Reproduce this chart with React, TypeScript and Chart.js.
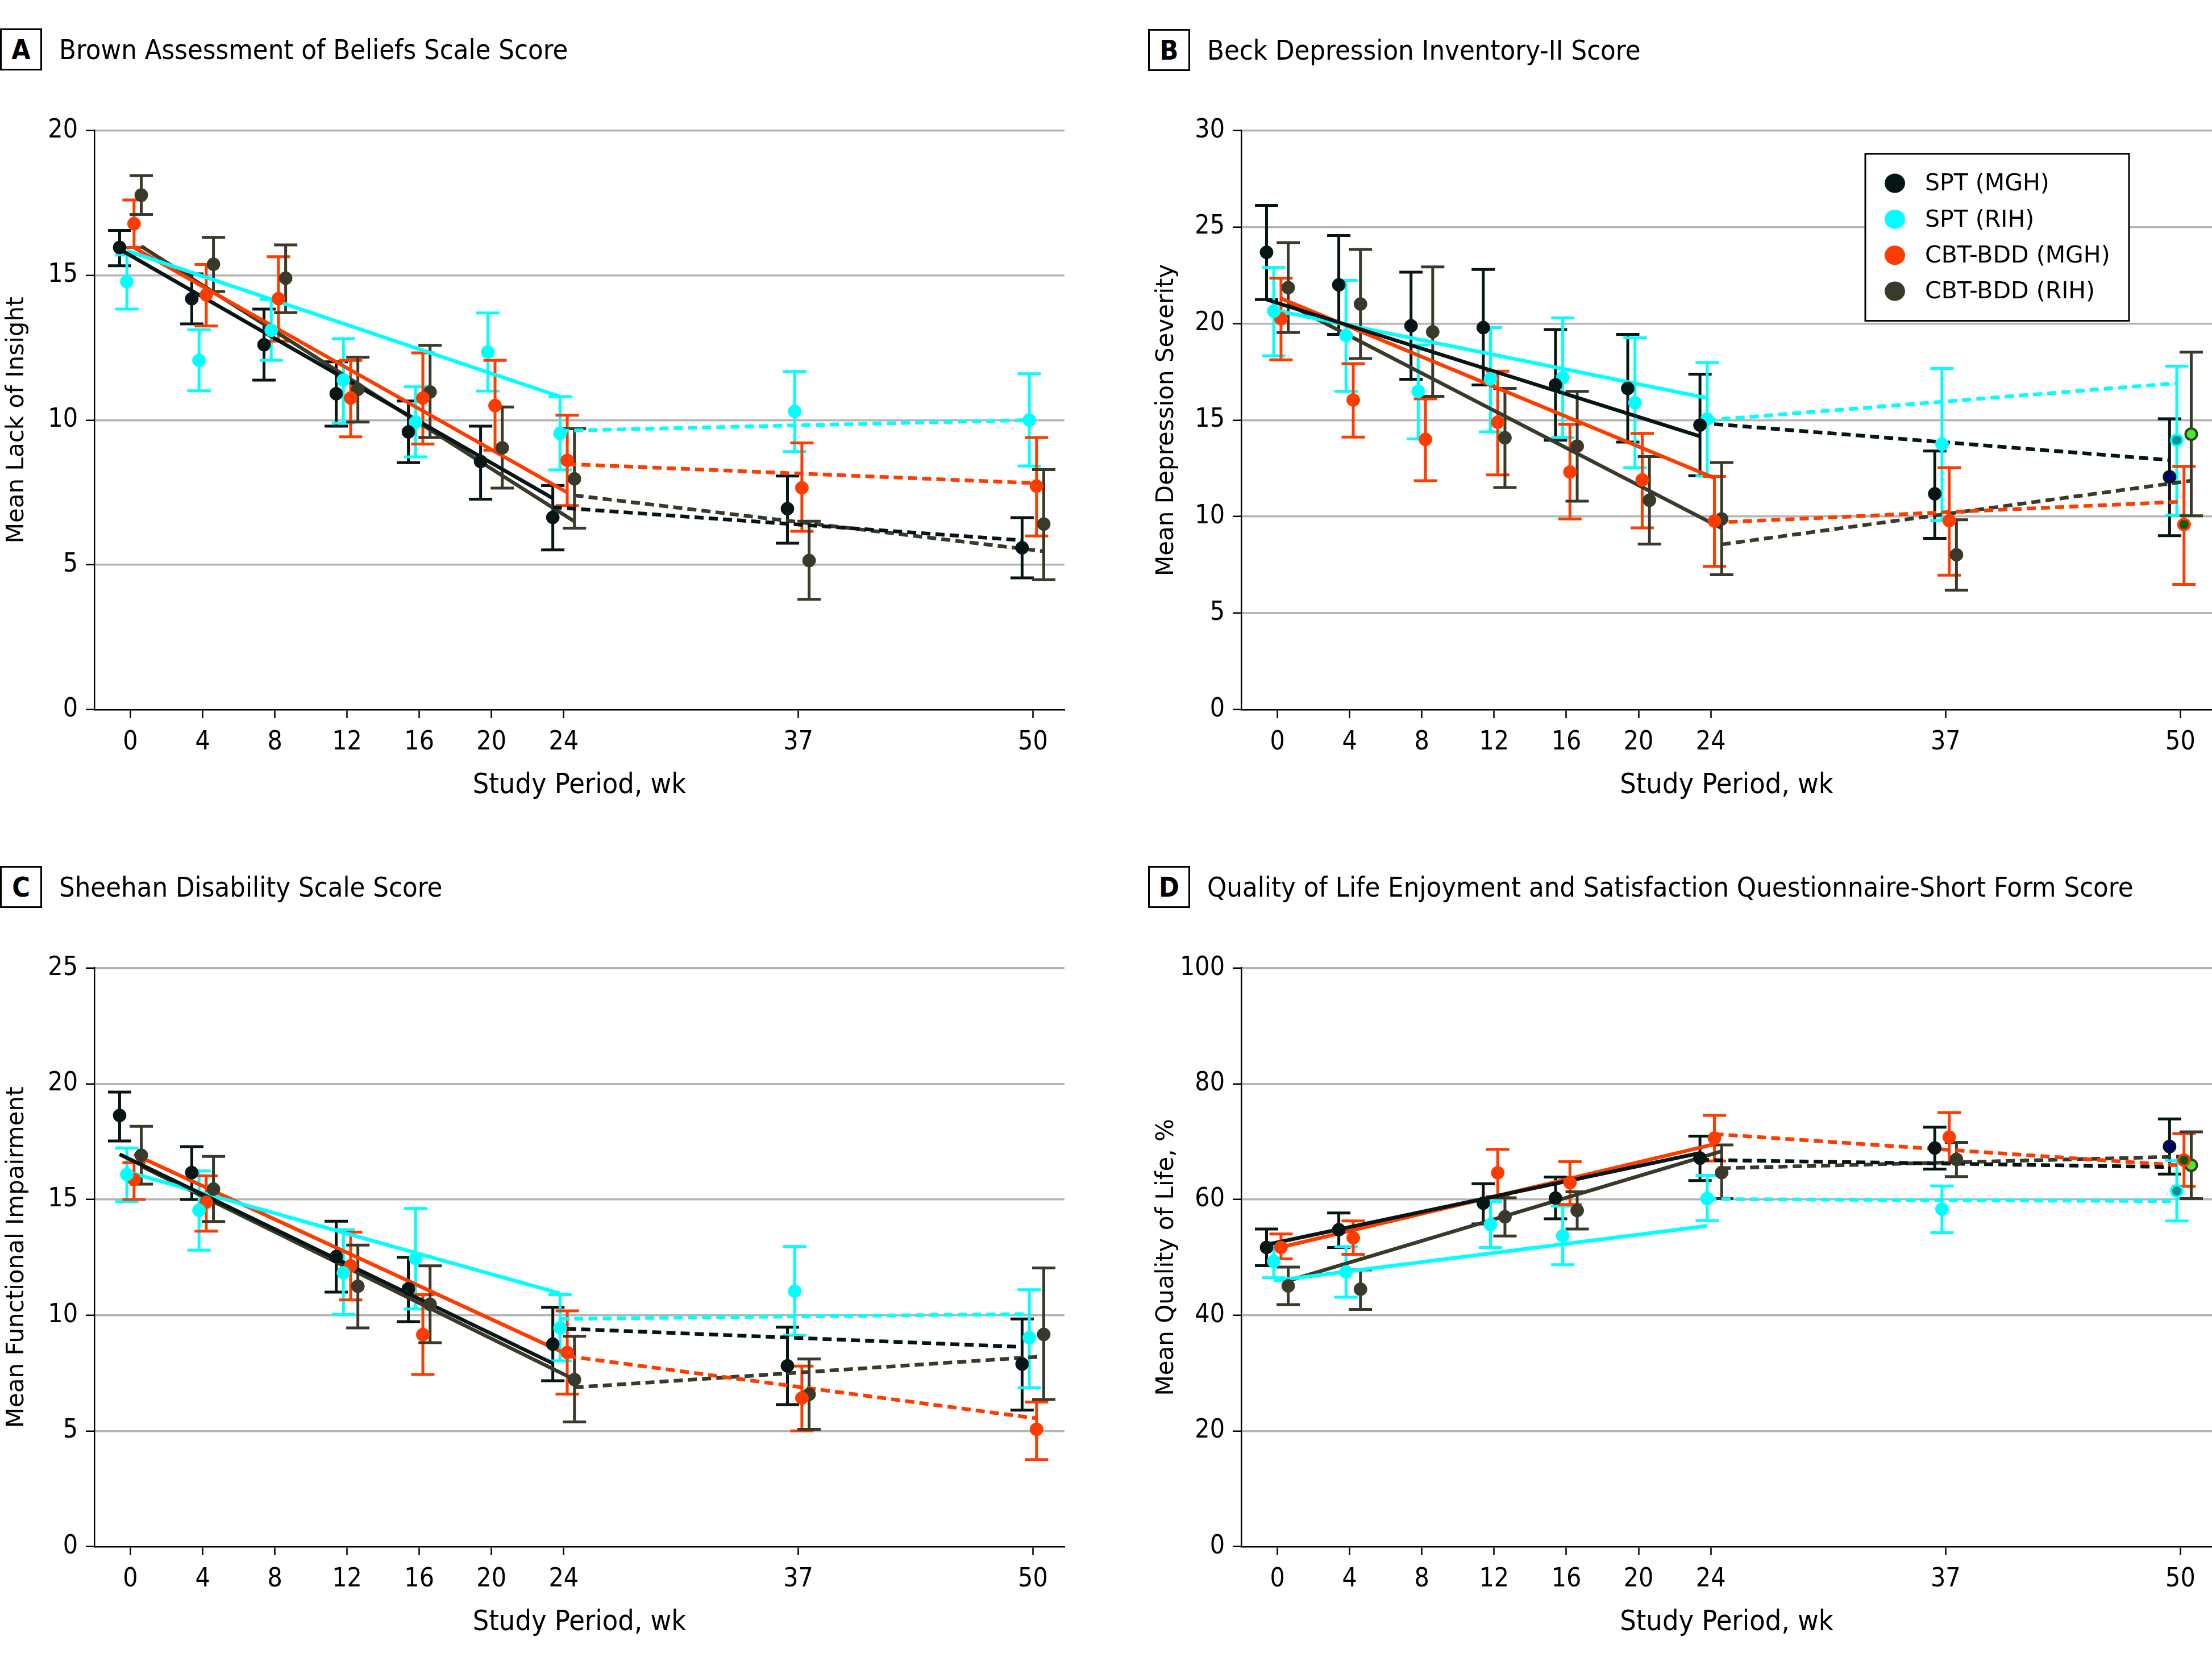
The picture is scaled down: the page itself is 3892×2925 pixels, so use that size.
import React, { useEffect, useRef } from "react";
import { Chart, registerables } from "chart.js";

Chart.register(...registerables);

// ---------- categories / ticks ----------
const GROUPS = ["SPT (MGH)", "SPT (RIH)", "CBT-BDD (MGH)", "CBT-BDD (RIH)"];
const WEEKS_AB = [0, 4, 8, 12, 16, 20, 24, 37, 50];
const WEEKS_CD = [0, 4, 12, 16, 24, 37, 50];
const X_TICKS = [0, 4, 8, 12, 16, 20, 24, 37, 50];
const LINE_WEEKS = [0, 24, 24, 50]; // solid start, solid end, dashed start, dashed end

// ---------- Panel A: BABS ----------
const A_SPT_MGH = [15.96, 14.19, 12.6, 10.91, 9.59, 8.57, 6.64, 6.94, 5.59];
const A_SPT_MGH_LO = [15.33, 13.32, 11.38, 9.79, 8.53, 7.27, 5.52, 5.75, 4.55];
const A_SPT_MGH_HI = [16.55, 15.05, 13.83, 12.01, 10.66, 9.79, 7.74, 8.07, 6.63];
const A_SPT_RIH = [14.78, 12.06, 13.1, 11.38, 9.93, 12.35, 9.54, 10.3, 10.0];
const A_SPT_RIH_LO = [13.83, 11.01, 12.06, 9.9, 8.73, 11.0, 8.28, 8.91, 8.41];
const A_SPT_RIH_HI = [15.7, 13.12, 14.16, 12.81, 11.15, 13.7, 10.81, 11.68, 11.6];
const A_CBT_MGH = [16.78, 14.32, 14.19, 10.76, 10.76, 10.5, 8.61, 7.66, 7.72];
const A_CBT_MGH_LO = [15.96, 13.25, 12.73, 9.42, 9.17, 8.96, 7.05, 6.16, 6.0];
const A_CBT_MGH_HI = [17.6, 15.37, 15.64, 12.06, 12.32, 12.06, 10.17, 9.21, 9.4];
const A_CBT_RIH = [17.77, 15.38, 14.9, 11.06, 10.97, 9.04, 7.97, 5.15, 6.41];
const A_CBT_RIH_LO = [17.1, 14.44, 13.71, 9.93, 9.4, 7.65, 6.27, 3.81, 4.49];
const A_CBT_RIH_HI = [18.44, 16.31, 16.05, 12.17, 12.58, 10.45, 9.7, 6.51, 8.29];
const A_FIT_SPT_MGH = [15.9, 7.3, 6.99, 5.85];
const A_FIT_SPT_RIH = [15.85, 10.81, 9.63, 10.0];
const A_FIT_CBT_MGH = [15.95, 7.5, 8.48, 7.82];
const A_FIT_CBT_RIH = [16.0, 6.5, 7.4, 5.47];

// ---------- Panel B: BDI-II ----------
const B_SPT_MGH = [23.69, 22.0, 19.88, 19.79, 16.82, 16.64, 14.74, 11.18, 12.06];
const B_SPT_MGH_LO = [21.24, 19.44, 17.11, 16.82, 13.96, 13.86, 12.12, 8.87, 9.01];
const B_SPT_MGH_HI = [26.12, 24.56, 22.66, 22.8, 19.69, 19.44, 17.38, 13.4, 15.07];
const B_SPT_RIH = [20.64, 19.38, 16.49, 17.13, 17.2, 15.9, 15.05, 13.75, 13.96];
const B_SPT_RIH_LO = [18.33, 16.49, 14.02, 14.39, 14.1, 12.54, 12.1, 9.79, 10.08];
const B_SPT_RIH_HI = [22.9, 22.23, 18.89, 19.79, 20.29, 19.26, 17.98, 17.67, 17.79];
const B_CBT_MGH = [20.25, 16.04, 14.0, 14.89, 12.31, 11.9, 9.77, 9.79, 9.59];
const B_CBT_MGH_LO = [18.12, 14.12, 11.86, 12.16, 9.88, 9.42, 7.42, 6.97, 6.49];
const B_CBT_MGH_HI = [22.35, 17.92, 16.1, 17.53, 14.78, 14.31, 12.08, 12.54, 12.6];
const B_CBT_RIH = [21.86, 21.01, 19.57, 14.08, 13.65, 10.85, 9.88, 8.02, 14.27];
const B_CBT_RIH_LO = [19.53, 18.19, 16.23, 11.51, 10.8, 8.58, 6.99, 6.19, 10.04];
const B_CBT_RIH_HI = [24.19, 23.84, 22.93, 16.64, 16.49, 13.11, 12.8, 9.84, 18.52];
const B_FIT_SPT_MGH = [21.24, 14.16, 14.85, 12.93];
const B_FIT_SPT_RIH = [20.7, 16.14, 14.99, 16.91];
const B_FIT_CBT_MGH = [21.3, 12.0, 9.69, 10.78];
const B_FIT_CBT_RIH = [21.0, 9.4, 8.56, 11.86];

// ---------- Panel C: SDS ----------
const C_SPT_MGH = [18.63, 16.16, 12.53, 11.14, 8.75, 7.81, 7.89];
const C_SPT_MGH_LO = [17.53, 15.0, 11.0, 9.72, 7.17, 6.14, 5.9];
const C_SPT_MGH_HI = [19.64, 17.28, 14.06, 12.5, 10.34, 9.48, 9.84];
const C_SPT_RIH = [16.08, 14.53, 11.83, 12.45, 9.45, 11.04, 9.03];
const C_SPT_RIH_LO = [14.91, 12.81, 10.03, 10.27, 8.03, 9.13, 6.86];
const C_SPT_RIH_HI = [17.22, 16.23, 13.7, 14.61, 10.89, 12.97, 11.1];
const C_CBT_MGH = [15.86, 14.88, 12.13, 9.16, 8.39, 6.42, 5.07];
const C_CBT_MGH_LO = [15.0, 13.63, 10.66, 7.44, 6.59, 5.0, 3.76];
const C_CBT_MGH_HI = [16.59, 16.02, 13.59, 10.89, 10.19, 7.8, 6.25];
const C_CBT_RIH = [16.91, 15.45, 11.25, 10.47, 7.22, 6.58, 9.17];
const C_CBT_RIH_LO = [15.66, 14.05, 9.45, 8.81, 5.39, 5.07, 6.36];
const C_CBT_RIH_HI = [18.16, 16.86, 13.03, 12.13, 9.09, 8.11, 12.04];
const C_FIT_SPT_MGH = [16.95, 7.92, 9.44, 8.63];
const C_FIT_SPT_RIH = [16.2, 10.94, 9.84, 10.05];
const C_FIT_CBT_MGH = [16.95, 8.31, 8.23, 5.54];
const C_FIT_CBT_RIH = [16.44, 7.22, 6.88, 8.22];

// ---------- Panel D: Q-LES-Q-SF ----------
const D_SPT_MGH = [51.71, 54.77, 59.36, 60.24, 67.14, 68.89, 69.16];
const D_SPT_MGH_LO = [48.56, 51.71, 55.78, 56.65, 63.25, 65.26, 64.39];
const D_SPT_MGH_HI = [54.9, 57.66, 62.73, 63.87, 70.95, 72.48, 73.92];
const D_SPT_RIH = [49.3, 47.47, 55.64, 53.72, 60.15, 58.31, 61.46];
const D_SPT_RIH_LO = [46.46, 43.1, 51.71, 48.74, 56.34, 54.25, 56.3];
const D_SPT_RIH_HI = [52.28, 51.84, 59.62, 58.84, 64.17, 62.33, 66.71];
const D_CBT_MGH = [51.71, 53.37, 64.61, 62.9, 70.6, 70.77, 66.79];
const D_CBT_MGH_LO = [49.74, 50.53, 60.5, 59.14, 66.66, 66.36, 62.25];
const D_CBT_MGH_HI = [54.03, 56.3, 68.67, 66.53, 74.53, 75.02, 71.39];
const D_CBT_RIH = [45.06, 44.49, 57.0, 58.09, 64.65, 66.93, 65.92];
const D_CBT_RIH_LO = [41.83, 41.0, 53.68, 54.9, 60.15, 63.95, 60.15];
const D_CBT_RIH_HI = [48.3, 47.82, 60.28, 61.33, 69.42, 69.86, 71.69];
const D_FIT_SPT_MGH = [52.19, 68.02, 66.84, 65.61];
const D_FIT_SPT_RIH = [45.94, 55.43, 60.06, 59.71];
const D_FIT_CBT_MGH = [51.75, 69.55, 71.3, 65.83];
const D_FIT_CBT_RIH = [45.94, 68.33, 65.4, 67.45];

// ---------- styles ----------
const COLORS = ["#061515", "#00ffff", "#ff3c00", "#3a3a2b"];
const FINAL_FILL = ["#000078", "#0f8f8f", "#0a5c0a", "#3ff028"];
const DODGE = [-0.6, -0.2, 0.2, 0.6];
const COND = "'DejaVu Sans Condensed', 'DejaVu Sans', sans-serif";
const SANS = "'DejaVu Sans', sans-serif";

type PanelCfg = {
  letter: string;
  title: string;
  yTitle: string;
  weeks: number[];
  means: number[][];
  lo: number[][];
  hi: number[][];
  fits: number[][];
  yMax: number;
  yStep: number;
  left: number;
  top: number;
  width: number;
  height: number;
  yAxisW: number;
  yTitlePad: number;
  padRight: number;
  oddFinal: boolean;
  legend: boolean;
  titleLeft: number;
  titleTop: number;
};

const PANELS: PanelCfg[] = [
  {
    letter: "A", title: "Brown Assessment of Beliefs Scale Score", yTitle: "Mean Lack of Insight",
    weeks: WEEKS_AB,
    means: [A_SPT_MGH, A_SPT_RIH, A_CBT_MGH, A_CBT_RIH],
    lo: [A_SPT_MGH_LO, A_SPT_RIH_LO, A_CBT_MGH_LO, A_CBT_RIH_LO],
    hi: [A_SPT_MGH_HI, A_SPT_RIH_HI, A_CBT_MGH_HI, A_CBT_RIH_HI],
    fits: [A_FIT_SPT_MGH, A_FIT_SPT_RIH, A_FIT_CBT_MGH, A_FIT_CBT_RIH],
    yMax: 20, yStep: 5,
    left: 0, top: 188, width: 1892, height: 1225, yAxisW: 166, yTitlePad: 5, padRight: 19,
    oddFinal: false, legend: false, titleLeft: 0, titleTop: 50,
  },
  {
    letter: "B", title: "Beck Depression Inventory-II Score", yTitle: "Mean Depression Severity",
    weeks: WEEKS_AB,
    means: [B_SPT_MGH, B_SPT_RIH, B_CBT_MGH, B_CBT_RIH],
    lo: [B_SPT_MGH_LO, B_SPT_RIH_LO, B_CBT_MGH_LO, B_CBT_RIH_LO],
    hi: [B_SPT_MGH_HI, B_SPT_RIH_HI, B_CBT_MGH_HI, B_CBT_RIH_HI],
    fits: [B_FIT_SPT_MGH, B_FIT_SPT_RIH, B_FIT_CBT_MGH, B_FIT_CBT_RIH],
    yMax: 30, yStep: 5,
    left: 2004, top: 188, width: 1907, height: 1225, yAxisW: 180, yTitlePad: 24, padRight: 19,
    oddFinal: true, legend: true, titleLeft: 2020, titleTop: 51,
  },
  {
    letter: "C", title: "Sheehan Disability Scale Score", yTitle: "Mean Functional Impairment",
    weeks: WEEKS_CD,
    means: [C_SPT_MGH, C_SPT_RIH, C_CBT_MGH, C_CBT_RIH],
    lo: [C_SPT_MGH_LO, C_SPT_RIH_LO, C_CBT_MGH_LO, C_CBT_RIH_LO],
    hi: [C_SPT_MGH_HI, C_SPT_RIH_HI, C_CBT_MGH_HI, C_CBT_RIH_HI],
    fits: [C_FIT_SPT_MGH, C_FIT_SPT_RIH, C_FIT_CBT_MGH, C_FIT_CBT_RIH],
    yMax: 25, yStep: 5,
    left: 0, top: 1662, width: 1892, height: 1224, yAxisW: 166, yTitlePad: 5, padRight: 19,
    oddFinal: false, legend: false, titleLeft: 0, titleTop: 1524,
  },
  {
    letter: "D", title: "Quality of Life Enjoyment and Satisfaction Questionnaire-Short Form Score",
    yTitle: "Mean Quality of Life, %",
    weeks: WEEKS_CD,
    means: [D_SPT_MGH, D_SPT_RIH, D_CBT_MGH, D_CBT_RIH],
    lo: [D_SPT_MGH_LO, D_SPT_RIH_LO, D_CBT_MGH_LO, D_CBT_RIH_LO],
    hi: [D_SPT_MGH_HI, D_SPT_RIH_HI, D_CBT_MGH_HI, D_CBT_RIH_HI],
    fits: [D_FIT_SPT_MGH, D_FIT_SPT_RIH, D_FIT_CBT_MGH, D_FIT_CBT_RIH],
    yMax: 100, yStep: 20,
    left: 2004, top: 1662, width: 1907, height: 1224, yAxisW: 180, yTitlePad: 24, padRight: 19,
    oddFinal: true, legend: false, titleLeft: 2020, titleTop: 1524,
  },
];

const errorBarPlugin = {
  id: "errorBars",
  beforeDatasetsDraw(chart: any) {
    const { ctx } = chart;
    const x = chart.scales.x;
    const y = chart.scales.y;
    chart.data.datasets.forEach((ds: any) => {
      if (!ds.errLo) return;
      ctx.save();
      ctx.strokeStyle = ds.borderColor;
      ctx.lineWidth = 5;
      ctx.lineCap = "butt";
      ds.data.forEach((p: any, j: number) => {
        const px = x.getPixelForValue(p.x);
        const yl = y.getPixelForValue(ds.errLo[j]);
        const yh = y.getPixelForValue(ds.errHi[j]);
        ctx.beginPath();
        ctx.moveTo(px, yl);
        ctx.lineTo(px, yh);
        ctx.moveTo(px - 20.5, yl);
        ctx.lineTo(px + 20.5, yl);
        ctx.moveTo(px - 20.5, yh);
        ctx.lineTo(px + 20.5, yh);
        ctx.stroke();
      });
      ctx.restore();
    });
  },
};

const legendPlugin = {
  id: "boxLegend",
  afterDraw(chart: any) {
    if (!chart.options.plugins.boxLegend?.show) return;
    const { ctx, chartArea } = chart;
    const bx = chartArea.left + 1098;
    const by = chartArea.top + 41;
    const bw = 464;
    const bh = 294;
    ctx.save();
    ctx.fillStyle = "#ffffff";
    ctx.fillRect(bx, by, bw, bh);
    ctx.strokeStyle = "#000000";
    ctx.lineWidth = 3;
    ctx.strokeRect(bx, by, bw, bh);
    ctx.font = `41px ${SANS}`;
    ctx.textBaseline = "middle";
    ctx.textAlign = "left";
    GROUPS.forEach((name, i) => {
      const cy = by + 52 + i * 63.3;
      ctx.fillStyle = COLORS[i];
      ctx.beginPath();
      ctx.ellipse(bx + 52, cy, 18, 17, 0, 0, Math.PI * 2);
      ctx.fill();
      ctx.fillStyle = "#000000";
      ctx.fillText(name, bx + 105, cy + 2);
    });
    ctx.restore();
  },
};

function buildConfig(p: PanelCfg): any {
  const datasets: any[] = [];
  GROUPS.forEach((g, i) => {
    const off = DODGE[i];
    const f = p.fits[i];
    datasets.push({
      label: g + " fit",
      data: [
        { x: LINE_WEEKS[0] + off, y: f[0] },
        { x: LINE_WEEKS[1] + off, y: f[1] },
      ],
      showLine: true,
      borderColor: COLORS[i],
      backgroundColor: COLORS[i],
      borderWidth: 6.5,
      pointRadius: 0,
      order: 2,
    });
    datasets.push({
      label: g + " follow-up",
      data: [
        { x: LINE_WEEKS[2] + off, y: f[2] },
        { x: LINE_WEEKS[3] + off, y: f[3] },
      ],
      showLine: true,
      borderColor: COLORS[i],
      backgroundColor: COLORS[i],
      borderWidth: 6.5,
      borderDash: [16, 9],
      pointRadius: 0,
      order: 2,
    });
  });
  GROUPS.forEach((g, i) => {
    const off = DODGE[i];
    const n = p.weeks.length;
    const isOdd = (j: number) => p.oddFinal && j === n - 1;
    datasets.push({
      label: g,
      data: p.weeks.map((w, j) => ({ x: w + off, y: p.means[i][j] })),
      errLo: p.lo[i],
      errHi: p.hi[i],
      showLine: false,
      borderColor: COLORS[i],
      backgroundColor: COLORS[i],
      pointBackgroundColor: p.weeks.map((w, j) => (isOdd(j) ? FINAL_FILL[i] : COLORS[i])),
      pointBorderColor: COLORS[i],
      pointBorderWidth: p.weeks.map((w, j) => (isOdd(j) ? 4 : 1)),
      pointRadius: p.weeks.map((w, j) => (isOdd(j) ? 10 : 11.5)),
      order: 0,
    });
  });

  return {
    type: "scatter",
    data: { datasets },
    plugins: [errorBarPlugin, legendPlugin],
    options: {
      animation: false,
      responsive: false,
      maintainAspectRatio: false,
      events: [],
      layout: { padding: { top: 40, right: p.padRight, left: 0, bottom: 0 } },
      plugins: {
        legend: { display: false },
        tooltip: { enabled: false },
        title: { display: false },
        boxLegend: { show: p.legend },
      },
      scales: {
        x: {
          type: "linear",
          min: -2,
          max: 51.75,
          afterBuildTicks: (axis: any) => {
            axis.ticks = X_TICKS.map((v) => ({ value: v }));
          },
          afterFit: (s: any) => {
            s.height = 164;
          },
          grid: {
            drawOnChartArea: false,
            drawTicks: true,
            tickLength: 15,
            tickWidth: 2.5,
            tickColor: "#000000",
          },
          border: { display: true, color: "#000000", width: 2.5 },
          ticks: {
            color: "#000000",
            font: { family: COND, size: 46 },
            padding: 15,
            maxRotation: 0,
            autoSkip: false,
            callback: (v: any) => String(v),
          },
          title: {
            display: true,
            text: "Study Period, wk",
            color: "#000000",
            font: { family: COND, size: 50 },
            padding: { top: 0, bottom: 0 },
          },
        },
        y: {
          type: "linear",
          min: 0,
          max: p.yMax,
          afterFit: (s: any) => {
            s.width = p.yAxisW;
          },
          ticks: {
            stepSize: p.yStep,
            color: "#000000",
            font: { family: COND, size: 46 },
            padding: 14,
          },
          grid: {
            color: (c: any) => (c.tick && c.tick.value === 0 ? "rgba(0,0,0,0)" : "#b4b4b4"),
            lineWidth: 3.5,
            drawTicks: true,
            tickLength: 15,
            tickWidth: 2.5,
            tickColor: "#000000",
          },
          border: { display: true, color: "#000000", width: 2.5 },
          title: {
            display: true,
            text: p.yTitle,
            color: "#000000",
            font: { family: SANS, size: 42 },
            padding: { top: p.yTitlePad, bottom: 0 },
          },
        },
      },
    },
  };
}

function Panel({ p }: { p: PanelCfg }) {
  const ref = useRef<HTMLCanvasElement>(null);
  useEffect(() => {
    if (!ref.current) return;
    const chart = new Chart(ref.current, buildConfig(p));
    return () => chart.destroy();
  }, [p]);
  return (
    <>
      <canvas
        ref={ref}
        width={p.width}
        height={p.height}
        style={{ position: "absolute", left: p.left, top: p.top, width: p.width, height: p.height }}
      />
      <div
        style={{
          position: "absolute",
          left: p.titleLeft,
          top: p.titleTop,
          height: 74,
          display: "flex",
          alignItems: "center",
          whiteSpace: "nowrap",
        }}
      >
        <div
          style={{
            boxSizing: "border-box",
            width: 74,
            height: 74,
            border: "3px solid #000",
            display: "flex",
            alignItems: "center",
            justifyContent: "center",
            fontFamily: COND,
            fontWeight: "bold",
            fontSize: 48,
            lineHeight: "48px",
            color: "#000",
          }}
        >
          {p.letter}
        </div>
        <div
          style={{
            marginLeft: 30,
            fontFamily: COND,
            fontSize: 48.5,
            lineHeight: "48px",
            color: "#000",
          }}
        >
          {p.title}
        </div>
      </div>
    </>
  );
}

export default function App() {
  return (
    <div
      style={{
        position: "absolute",
        left: 0,
        top: 0,
        width: 3892,
        height: 2925,
        background: "#ffffff",
        overflow: "hidden",
      }}
    >
      {PANELS.map((p) => (
        <Panel key={p.letter} p={p} />
      ))}
    </div>
  );
}
